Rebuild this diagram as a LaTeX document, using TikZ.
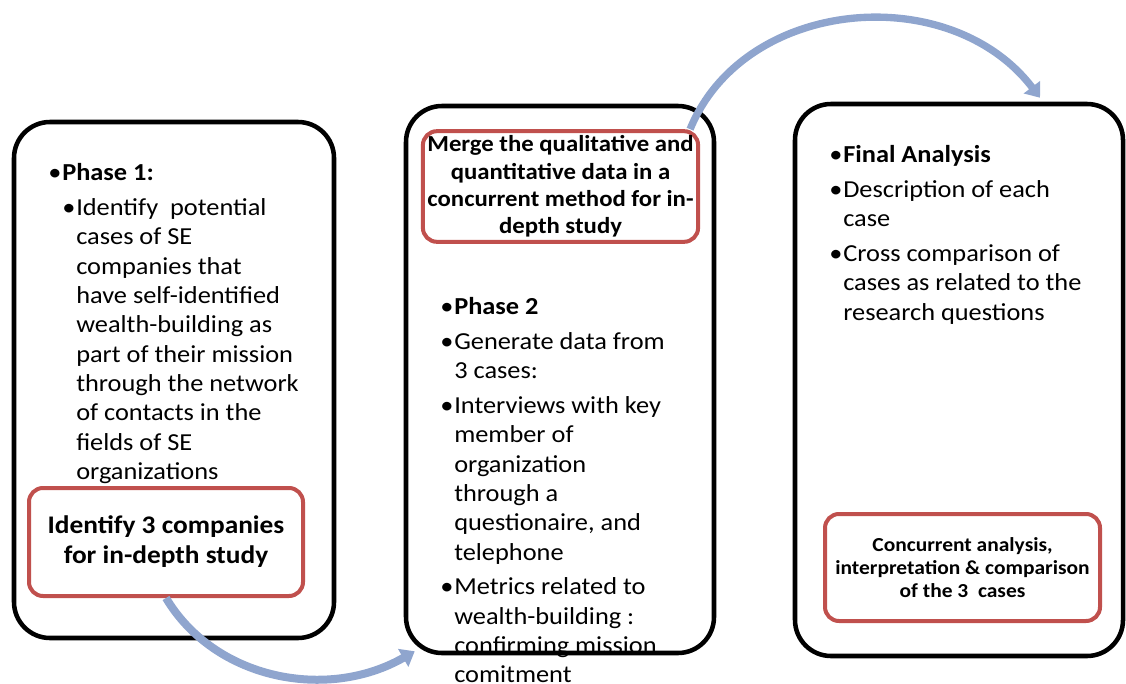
\documentclass[tikz,border=0pt]{standalone}
\usepackage{fontspec}
\setmainfont{Carlito}[FakeStretch=1.08]
\usetikzlibrary{calc,arrows.meta}

\definecolor{frameRed}{RGB}{192,80,77}
\definecolor{flowBlue}{RGB}{143,165,206}

% plain font spaces, real line breaks inside a paragraph
\newcommand\bulsetup{\setlength\parskip{4pt}\spaceskip=0pt\xspaceskip=0pt\let\\\newline}
% bullet paragraph with hanging indent, optional left indent
\newcommand\bul[2][0pt]{\par\leftskip=#1\relax\hangindent=10.5pt\hangafter=1\noindent\makebox[10.5pt][l]{\textbullet}#2}

\begin{document}
\begin{tikzpicture}[x=0.75pt,y=-0.75pt,
	phase/.style={draw=black,line width=3.4pt,rounded corners=27pt},
	keybox/.style={draw=frameRed,line width=3pt,rounded corners=10.5pt,fill=white,align=center},
	bullets/.style={anchor=north west,inner sep=0pt,text width=#1,align=left,font=\fontsize{18.3}{22}\selectfont},
	flow/.style={draw=flowBlue,line width=6pt,-{Triangle[length=10pt,width=15pt]}}]
		\useasboundingbox (0,0) rectangle (1126,684);
		
		%%%%% phase frames %%%%%
		\node[phase,minimum width=240pt,minimum height=387pt] (box1) at (174,380) {};
		\node[phase,minimum width=231pt,minimum height=410.25pt] (box2) at (560,379.5) {};
		\node[phase,minimum width=246pt,minimum height=414pt] (box3) at (959,380) {};
		
		%%%%% bullet texts %%%%%
		\node[bullets=240pt] (txt1) at (48,146) {\bulsetup
			\bul{\textbf{Phase 1:}}
			\bul[10.5pt]{Identify\ \ potential\\cases of SE\\companies that\\have self-identified\\wealth-building as\\part of their mission\\through the network\\of contacts in the\\fields of SE\\organizations}\par};
		\node[bullets=240pt] (txt2) at (440,280) {\bulsetup
			\bul{\textbf{Phase 2}}
			\bul{Generate data from\\3 cases:}
			\bul{Interviews with key\\member of\\organization\\through a\\questionaire, and\\telephone}
			\bul{Metrics related to\\wealth-building :\\confirming mission\\comitment}\par};
		\node[bullets=250pt] (txt3) at (829,128) {\bulsetup
			\bul{\textbf{Final Analysis}}
			\bul{Description of each\\case}
			\bul{Cross comparison of\\cases as related to the\\research questions}\par};
		
		%%%%% key steps %%%%%
		\node[keybox,minimum width=205.5pt,minimum height=81pt,font=\fontsize{19}{22.5}\selectfont\bfseries] (red1) at (166,542) {\spaceskip=0pt Identify 3 companies\\for in-depth study};
		\node[keybox,minimum width=203.25pt,minimum height=81.75pt,font=\fontsize{17.2}{20.5}\selectfont\bfseries] (red2) at (560.5,186.5) {\spaceskip=0pt Merge the qualitative and\\quantitative data in a\\concurrent method for in-\\depth study};
		\node[keybox,minimum width=206.25pt,minimum height=80.25pt,font=\fontsize{14.9}{17}\selectfont\bfseries] (red3) at (962.5,567.5) {\spaceskip=0pt Concurrent analysis,\\interpretation \& comparison\\of the 3\ \ cases};
		
		%%%%% flow arrows %%%%%
		\draw[flow] (red1.south) .. controls +(49,82) and +(-87,50) .. ($(box2.south west)+(11,-4)$);
		\draw[flow,line width=5.5pt] ($(red2.north east)+(-10,0)$) .. controls +(54,-132) and +(-90,-118) .. ($(box3.north)+(81,-4)$);
	\end{tikzpicture}
\end{document}
